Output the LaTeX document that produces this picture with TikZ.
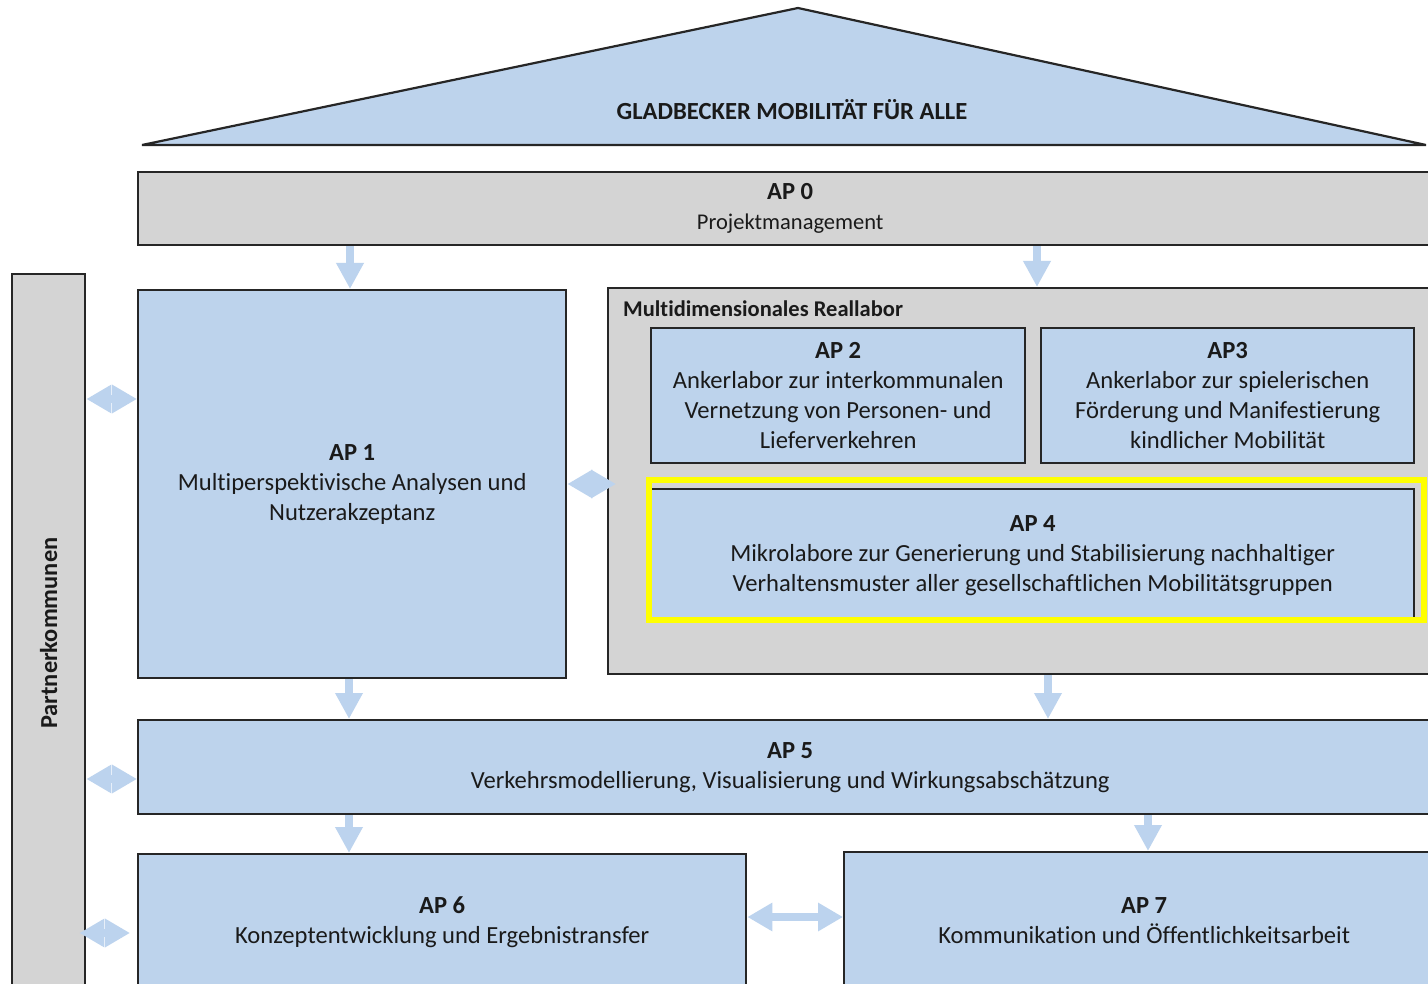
\documentclass[tikz,border=0pt]{standalone}
\usepackage{fontspec}
\setmainfont{Carlito}[Ligatures={NoCommon}]
\usetikzlibrary{arrows.meta}

\definecolor{boxblue}{HTML}{BDD3EC}
\definecolor{boxgray}{HTML}{D4D4D4}
\definecolor{flowblue}{HTML}{BCD3EE}
\definecolor{edgeline}{HTML}{262626}
\definecolor{markyellow}{HTML}{FFFF00}
\definecolor{inktext}{HTML}{1A1A1A}

\newcommand{\bodysize}{\fontsize{24.6}{30}\selectfont}
\newcommand{\smallsize}{\fontsize{22.5}{30}\selectfont}

\tikzset{
  panel/.style={draw=edgeline, line width=2.4pt, anchor=north west, inner sep=0pt,
    align=center, text=inktext, font=\bodysize},
  bluepanel/.style={panel, fill=boxblue},
  graypanel/.style={panel, fill=boxgray},
  heading/.style={text=inktext, inner sep=0pt, font=\bodysize\bfseries},
  flow/.style={draw=flowblue, line width=8pt, -{Triangle[width=26pt,length=26pt]}},
  pair/.style={draw=flowblue, line width=8pt,
    {Triangle[width=27pt,length=25pt]}-{Triangle[width=27pt,length=25pt]}},
}

\begin{document}
\begin{tikzpicture}[x=1pt, y=-1pt]
  \useasboundingbox (0,0) rectangle (1428,984);
  \fill[white] (0,0) rectangle (1428,984);

  % roof
  \draw[fill=boxblue, draw=edgeline, line width=2.2pt, line join=bevel]
    (142,145) -- (798,8) -- (1426,145) -- cycle;
  \node[heading] (roof) at (792,110) {GLADBECKER MOBILITÄT FÜR ALLE};

  % project management
  \node[graypanel, minimum width=1304, minimum height=73] (ap0) at (137,171)
    {\textbf{AP 0}\\{\smallsize Projektmanagement}};

  % partner municipalities column
  \node[graypanel, minimum width=73, minimum height=718] (pk) at (11,273)
    {\rotatebox{90}{\fontsize{24.4}{30}\selectfont\bfseries Partnerkommunen}};

  % AP 1
  \node[bluepanel, minimum width=428, minimum height=388] (ap1) at (137,289)
    {\textbf{AP 1}\\Multiperspektivische Analysen und\\Nutzerakzeptanz};

  % real-world laboratory
  \node[graypanel, minimum width=840, minimum height=386] (lab) at (607,287) {};
  \node[heading, anchor=west, font=\smallsize\bfseries] (labtitle) at (623,309)
    {Multidimensionales Reallabor};

  \node[bluepanel, minimum width=374, minimum height=135] (ap2) at (650,327)
    {\textbf{AP 2}\\Ankerlabor zur interkommunalen\\Vernetzung von Personen- und\\Lieferverkehren};
  \node[bluepanel, minimum width=373, minimum height=135] (ap3) at (1040,327)
    {\textbf{AP3}\\Ankerlabor zur spielerischen\\Förderung und Manifestierung\\kindlicher Mobilität};
  \node[bluepanel, minimum width=763, minimum height=133] (ap4) at (650,488)
    {\textbf{AP 4}\\Mikrolabore zur Generierung und Stabilisierung nachhaltiger\\Verhaltensmuster aller gesellschaftlichen Mobilitätsgruppen};
  \node[draw=markyellow, line width=5.5pt, anchor=north west, inner sep=0pt,
        minimum width=775, minimum height=140] (mark) at (646,477) {};

  % AP 5
  \node[bluepanel, minimum width=1304, minimum height=94] (ap5) at (137,719)
    {\textbf{AP 5}\\Verkehrsmodellierung, Visualisierung und Wirkungsabschätzung};

  % AP 6 and AP 7
  \node[bluepanel, minimum width=608, minimum height=136] (ap6) at (137,853)
    {\textbf{AP 6}\\Konzeptentwicklung und Ergebnistransfer};
  \node[bluepanel, minimum width=600, minimum height=136] (ap7) at (843,851)
    {\textbf{AP 7}\\Kommunikation und Öffentlichkeitsarbeit};

  % downward flows
  \draw[flow] (ap0.south -| 350,0) -- (ap1.north -| 350,0);
  \draw[flow] (ap0.south -| 1037,0) -- (lab.north -| 1037,0);
  \draw[flow] (ap1.south -| 349,0) -- (ap5.north -| 349,0);
  \draw[flow] (lab.south -| 1048,0) -- (ap5.north -| 1048,0);
  \draw[flow] (ap5.south -| 349,0) -- (ap6.north -| 349,0);
  \draw[flow] (ap5.south -| 1148,0) -- (ap7.north -| 1148,0);

  % exchanges
  \draw[pair] (pk.east |- 0,399) -- (ap1.west |- 0,399);
  \draw[pair] (pk.east |- 0,779) -- (ap5.west |- 0,779);
  \draw[pair, shorten <=-7pt, shorten >=7pt] (pk.east |- 0,933) -- (ap6.west |- 0,933);
  \draw[pair, shorten >=-9pt] (ap1.east |- 0,484) -- (lab.west |- 0,484);
  \draw[pair] (ap6.east |- 0,917) -- (ap7.west |- 0,917);
\end{tikzpicture}
\end{document}
